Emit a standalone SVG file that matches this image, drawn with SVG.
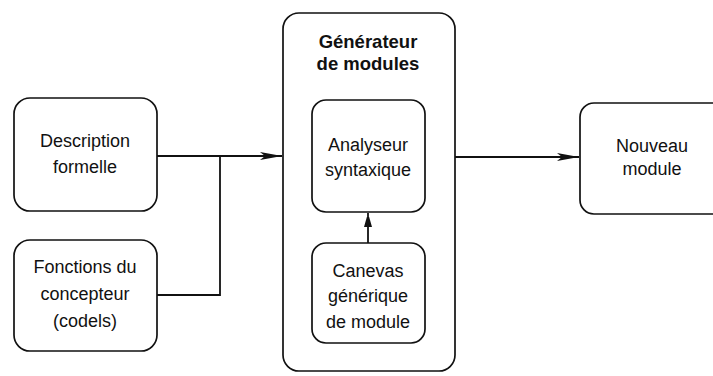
<svg xmlns="http://www.w3.org/2000/svg" width="713" height="376" viewBox="0 0 713 376">
<style>
.box{fill:#fff;stroke:#111;stroke-width:1.7}
.t{font-family:"Liberation Sans",Arial,sans-serif;font-size:18px;fill:#111;text-anchor:middle}
.b{font-weight:bold;font-size:18.5px}
.c{fill:none;stroke:#111;stroke-width:1.8}
</style>
<defs>
<marker id="ah" markerWidth="22" markerHeight="10" refX="22" refY="5" orient="auto" markerUnits="userSpaceOnUse">
<path d="M0,1 L22,5 L0,9 L5,5 Z" fill="#111"/>
</marker>
<marker id="ah2" markerWidth="10" markerHeight="14" refX="14" refY="5" orient="auto" markerUnits="userSpaceOnUse">
<path d="M0,1 L14,5 L0,9 Z" fill="#111"/>
</marker>
</defs>
<rect width="713" height="376" fill="#fff"/>
<g id="generateur">
<rect class="box" x="283" y="13" width="172" height="358" rx="16"/>
<text class="t b" x="368" y="48">Générateur</text>
<text class="t b" x="368" y="70">de modules</text>
</g>
<g id="description">
<rect class="box" x="14" y="98" width="143" height="113" rx="16"/>
<text class="t" x="85" y="147">Description</text>
<text class="t" x="85" y="173">formelle</text>
</g>
<g id="fonctions">
<rect class="box" x="14" y="240" width="143" height="111" rx="16"/>
<text class="t" x="85" y="273">Fonctions du</text>
<text class="t" x="85" y="300">concepteur</text>
<text class="t" x="85" y="327">(codels)</text>
</g>
<g id="analyseur">
<rect class="box" x="312" y="100" width="113" height="112" rx="14"/>
<text class="t" x="368" y="151">Analyseur</text>
<text class="t" x="368" y="176">syntaxique</text>
</g>
<g id="canevas">
<rect class="box" x="312" y="243" width="113" height="100" rx="14"/>
<text class="t" x="368" y="277">Canevas</text>
<text class="t" x="368" y="302">générique</text>
<text class="t" x="368" y="328">de module</text>
</g>
<g id="nouveau">
<rect class="box" x="580" y="103" width="150" height="111" rx="14"/>
<text class="t" x="652" y="152">Nouveau</text>
<text class="t" x="652" y="175">module</text>
</g>
<g id="connectors">
<path class="c" d="M157,156 L282,156" marker-end="url(#ah)"/>
<path class="c" d="M157,295 L220,295 L220,156"/>
<path class="c" d="M455,157 L579,157" marker-end="url(#ah)"/>
<path class="c" d="M368,243 L368,213" marker-end="url(#ah2)"/>
</g>
</svg>
